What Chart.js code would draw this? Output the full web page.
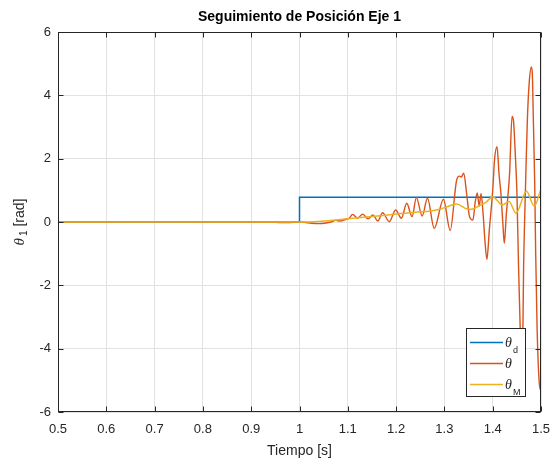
<!DOCTYPE html>
<html><head><meta charset="utf-8">
<script src="https://cdn.jsdelivr.net/npm/chart.js@4.4.0/dist/chart.umd.min.js"></script>
<style>html,body{margin:0;padding:0;background:#fff}canvas{display:block}</style>
</head><body>
<canvas id="c" width="550" height="461"></canvas>
<script>
// ---- data ----
const xTicks = [0.5, 0.6, 0.7, 0.8, 0.9, 1.0, 1.1, 1.2, 1.3, 1.4, 1.5];
const yTicks = [-6, -4, -2, 0, 2, 4, 6];

const thetaD_t = [0.5, 1.0, 1.0, 1.5];
const thetaD_v = [0, 0, 0.785, 0.785];

const theta_t = [0.5, 0.6, 0.7, 0.8, 0.9, 0.95, 0.975, 1.0,
  1.01, 1.025, 1.04, 1.055, 1.065, 1.075, 1.085, 1.095, 1.103, 1.11, 1.12, 1.131, 1.142, 1.152, 1.162, 1.172, 1.186,
  1.199, 1.211, 1.222, 1.233, 1.242, 1.254, 1.265, 1.279, 1.298, 1.312, 1.325, 1.331, 1.335, 1.34, 1.346, 1.352,
  1.359, 1.364, 1.368, 1.372, 1.376, 1.38, 1.384, 1.388, 1.393, 1.4, 1.404, 1.409, 1.413, 1.417, 1.421, 1.424,
  1.428, 1.435, 1.44, 1.443, 1.447, 1.45, 1.4535, 1.457, 1.46, 1.4625, 1.464, 1.466, 1.469, 1.472, 1.476, 1.48,
  1.482, 1.484, 1.487, 1.489, 1.492, 1.496, 1.499, 1.5];
const theta_v = [0, 0, 0.01, 0, 0, -0.01, -0.02, 0,
  -0.01, -0.04, -0.05, -0.03, 0.0, 0.05, 0.03, 0.08, 0.12, 0.24, 0.12, 0.25, 0.1, 0.22, 0.03, 0.29, 0.01,
  0.38, 0.12, 0.59, 0.17, 0.77, 0.19, 0.75, -0.2, 0.72, -0.27, 1.3, 1.45, 1.42, 1.54, 0.9, 0.17,
  0.06, 0.65, 0.92, 0.5, 0.9, 0.28, -0.6, -1.18, -0.25, 1.0, 2.0, 2.38, 1.54, 0.9, -0.04, -0.67,
  0.2, 1.54, 3.33, 3.2, 2.06, 1.0, -1.4, -3.4, -4.6, -3.4, -1.4, 0, 1.75, 3.33, 4.48, 4.9,
  4.7, 3.33, 1.2, -1.0, -3.4, -5.0, -5.3, -5.1];

const thetaM_t = [0.5, 0.7, 0.9, 1.0, 1.03, 1.06, 1.1, 1.15, 1.2, 1.24, 1.27, 1.29, 1.305, 1.325, 1.345, 1.356,
  1.374, 1.386, 1.4, 1.42, 1.434, 1.448, 1.47, 1.486, 1.5];
const thetaM_v = [0, 0, 0, 0, 0.01, 0.04, 0.1, 0.17, 0.25, 0.31, 0.34, 0.4, 0.48, 0.57, 0.42, 0.4,
  0.53, 0.62, 0.8, 0.54, 0.65, 0.28, 0.97, 0.5, 1.05];

const seriesNames = ['θd', 'θ', 'θM'];
const colors = ['#0072BD', '#D95319', '#EDB120'];

// ---- chart ----
const zip = (t, v) => t.map((x, i) => ({ x: x, y: v[i] }));
const AX = '#262626';
const FONT = "'Liberation Sans', Arial, sans-serif";

const deco = {
  id: 'deco',
  afterDraw(chart) {
    const ctx = chart.ctx, a = chart.chartArea;
    const xs = chart.scales.x, ys = chart.scales.y;
    ctx.save();
    // box
    ctx.strokeStyle = AX; ctx.lineWidth = 1;
    const L = Math.round(a.left) + 0.5, R = Math.round(a.right) - 0.5;
    const T = Math.round(a.top) + 0.5, B = Math.round(a.bottom) - 0.5;
    ctx.strokeRect(L, T, R - L, B - T);
    // inward ticks
    ctx.beginPath();
    xTicks.forEach(v => {
      const p = Math.round(xs.getPixelForValue(v)) + 0.5;
      ctx.moveTo(p, B); ctx.lineTo(p, B - 5);
      ctx.moveTo(p, T); ctx.lineTo(p, T + 5);
    });
    yTicks.forEach(v => {
      const p = Math.round(ys.getPixelForValue(v)) + 0.5;
      ctx.moveTo(L, p); ctx.lineTo(L + 5, p);
      ctx.moveTo(R, p); ctx.lineTo(R - 5, p);
    });
    ctx.stroke();

    // title
    const cx = (a.left + a.right) / 2;
    ctx.fillStyle = '#000';
    ctx.font = 'bold 14px ' + FONT;
    ctx.textAlign = 'center'; ctx.textBaseline = 'middle';
    ctx.fillText('Seguimiento de Posición Eje 1', cx, 17);
    // x title
    ctx.fillStyle = AX;
    ctx.font = '14px ' + FONT;
    ctx.fillText('Tiempo [s]', cx, 451);

    // y title (rotated)
    ctx.save();
    ctx.translate(24, (a.top + a.bottom) / 2);
    ctx.rotate(-Math.PI / 2);
    ctx.textAlign = 'left'; ctx.textBaseline = 'alphabetic';
    const fTh = "italic 15px 'Liberation Serif', serif";
    const fSub = '10px ' + FONT;
    const fTx = '14px ' + FONT;
    ctx.font = fTh; const w1 = ctx.measureText('θ').width;
    ctx.font = fSub; const w2 = ctx.measureText('1').width;
    ctx.font = fTx; const w3 = ctx.measureText(' [rad]').width;
    let x0 = -(w1 + 2 + w2 + w3) / 2;
    ctx.fillStyle = AX;
    ctx.font = fTh; ctx.fillText('θ', x0, 0); x0 += w1 + 2;
    ctx.font = fSub; ctx.fillText('1', x0, 3); x0 += w2;
    ctx.font = fTx; ctx.fillText(' [rad]', x0, 0);
    ctx.restore();

    // legend
    const bx = 466, by = 328, bw = 60, bh = 69;
    ctx.fillStyle = '#fff';
    ctx.fillRect(bx, by, bw, bh);
    ctx.strokeStyle = AX; ctx.lineWidth = 1;
    ctx.strokeRect(bx + 0.5, by + 0.5, bw - 1, bh - 1);
    const rows = [342.5, 363.5, 384.5];
    const subs = ['d', '', 'M'];
    rows.forEach((yy, i) => {
      ctx.strokeStyle = colors[i]; ctx.lineWidth = 1.5;
      ctx.beginPath(); ctx.moveTo(470, yy); ctx.lineTo(503, yy); ctx.stroke();
      ctx.fillStyle = AX;
      ctx.textAlign = 'left'; ctx.textBaseline = 'alphabetic';
      ctx.font = "italic 14px 'Liberation Serif', serif";
      ctx.fillText('θ', 505, yy + 4.5);
      if (subs[i]) {
        ctx.font = '9px ' + FONT;
        ctx.fillText(subs[i], 513, yy + 10);
      }
    });
    ctx.restore();
  }
};

new Chart(document.getElementById('c'), {
  type: 'line',
  data: {
    datasets: [
      { label: seriesNames[0], data: zip(thetaD_t, thetaD_v), borderColor: colors[0], borderWidth: 1.5,
        pointRadius: 0, tension: 0, order: 3 },
      { label: seriesNames[1], data: zip(theta_t, theta_v), borderColor: colors[1], borderWidth: 1.4,
        pointRadius: 0, cubicInterpolationMode: 'monotone', order: 2 },
      { label: seriesNames[2], data: zip(thetaM_t, thetaM_v), borderColor: colors[2], borderWidth: 1.5,
        pointRadius: 0, cubicInterpolationMode: 'monotone', order: 1 }
    ]
  },
  options: {
    responsive: false,
    animation: false,
    devicePixelRatio: 1,
    layout: { padding: { top: 32, right: 9, left: 0, bottom: 0 } },
    plugins: { legend: { display: false }, tooltip: { enabled: false }, title: { display: false } },
    scales: {
      x: {
        type: 'linear', min: 0.5, max: 1.5,
        afterBuildTicks: s => { s.ticks = xTicks.map(v => ({ value: v })); },
        afterFit: s => { s.height = 49; s.paddingLeft = 0; s.paddingRight = 0; },
        grid: { color: '#e2e2e2', drawTicks: false },
        border: { display: false },
        ticks: { color: AX, font: { family: FONT, size: 13 }, padding: 10, maxRotation: 0,
          callback: v => String(Number(v.toFixed(1))) }
      },
      y: {
        type: 'linear', min: -6, max: 6,
        afterBuildTicks: s => { s.ticks = yTicks.map(v => ({ value: v })); },
        afterFit: s => { s.width = 58; s.paddingTop = 0; s.paddingBottom = 0; },
        grid: { color: '#e2e2e2', drawTicks: false },
        border: { display: false },
        ticks: { color: AX, font: { family: FONT, size: 13 }, padding: 7,
          callback: v => String(v) }
      }
    }
  },
  plugins: [deco]
});
</script>
</body></html>
